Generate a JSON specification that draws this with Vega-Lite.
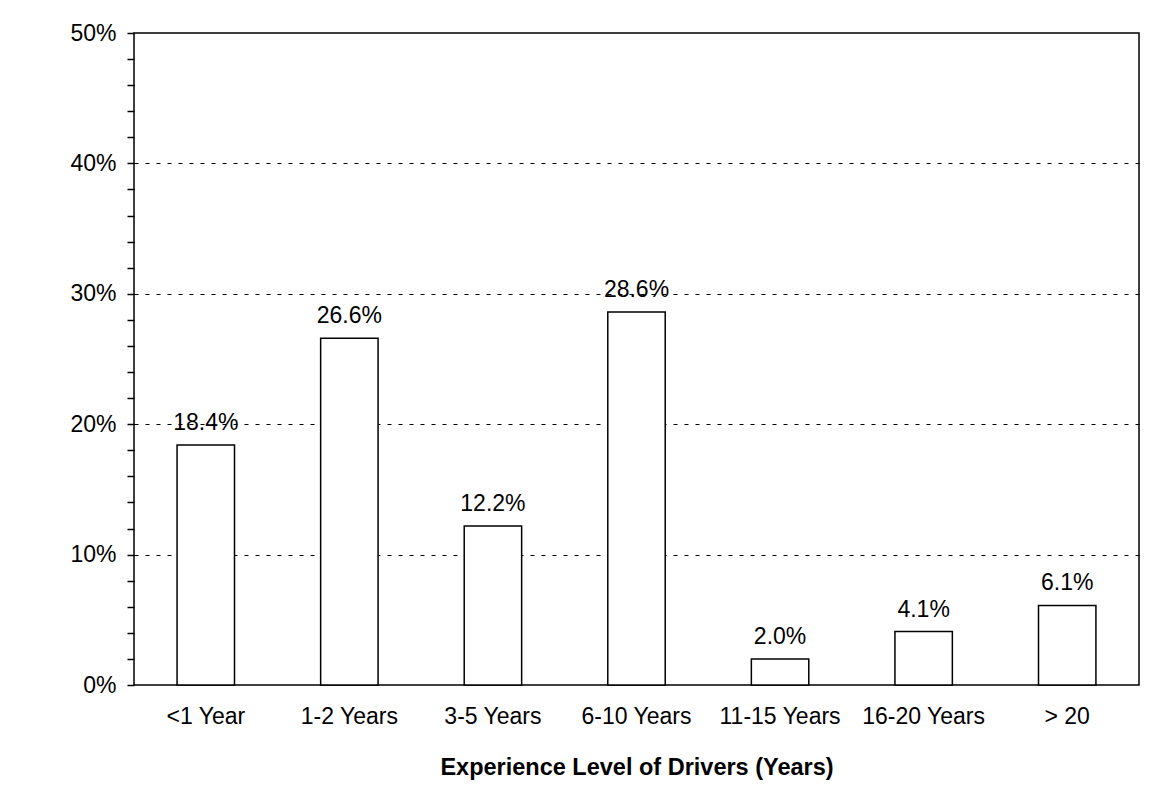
{
  "$schema": "https://vega.github.io/schema/vega-lite/v6.json",
  "autosize": {"type": "none"},
  "padding": {"left": 134, "top": 33, "right": 14, "bottom": 107},
  "width": 1005,
  "height": 652,
  "background": "white",
  "config": {
    "font": "Liberation Sans",
    "view": {"stroke": "#000", "strokeWidth": 1.5},
    "axis": {"labelColor": "#000", "titleColor": "#000", "labelFont": "Liberation Sans", "titleFont": "Liberation Sans"}
  },
  "data": {
    "values": [
      {"experience": "<1 Year", "percent": 18.4, "label": "18.4%"},
      {"experience": "1-2 Years", "percent": 26.6, "label": "26.6%"},
      {"experience": "3-5 Years", "percent": 12.2, "label": "12.2%"},
      {"experience": "6-10 Years", "percent": 28.6, "label": "28.6%"},
      {"experience": "11-15 Years", "percent": 2.0, "label": "2.0%"},
      {"experience": "16-20 Years", "percent": 4.1, "label": "4.1%"},
      {"experience": "> 20", "percent": 6.1, "label": "6.1%"}
    ]
  },
  "encoding": {
    "x": {
      "field": "experience",
      "type": "nominal",
      "sort": null,
      "scale": {"paddingInner": 0.6, "paddingOuter": 0.3},
      "axis": {
        "title": "Experience Level of Drivers (Years)",
        "titleFontSize": 23.5,
        "titleFontWeight": "bold",
        "titlePadding": 27,
        "labelFontSize": 23,
        "labelAngle": 0,
        "labelPadding": 20,
        "ticks": false,
        "domain": false,
        "grid": false
      }
    },
    "y": {
      "field": "percent",
      "type": "quantitative",
      "scale": {"domain": [0, 50], "nice": false},
      "axis": {
        "title": null,
        "values": [0, 2, 4, 6, 8, 10, 12, 14, 16, 18, 20, 22, 24, 26, 28, 30, 32, 34, 36, 38, 40, 42, 44, 46, 48, 50],
        "labelExpr": "datum.value % 10 === 0 ? datum.value + '%' : ''",
        "labelFontSize": 23,
        "labelPadding": 11,
        "tickSize": 7,
        "tickColor": "#000",
        "tickWidth": 1.5,
        "domain": false,
        "grid": true,
        "gridColor": "#000",
        "gridWidth": 1,
        "gridDash": [4, 7],
        "gridOpacity": {"condition": {"test": "datum.value % 10 === 0 && datum.value > 0 && datum.value < 50", "value": 1}, "value": 0}
      }
    }
  },
  "layer": [
    {
      "mark": {"type": "bar", "fill": "white", "stroke": "#000", "strokeWidth": 1.5}
    },
    {
      "mark": {"type": "text", "fontSize": 23, "color": "#000", "align": "center", "baseline": "alphabetic", "dy": -15},
      "encoding": {"text": {"field": "label"}}
    }
  ]
}
